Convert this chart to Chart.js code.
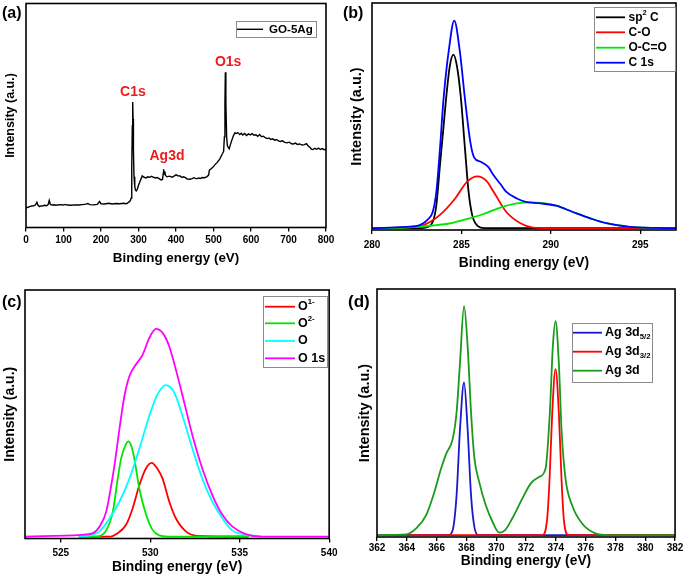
<!DOCTYPE html>
<html><head><meta charset="utf-8">
<script src="https://cdn.jsdelivr.net/npm/chart.js@4.4.1/dist/chart.umd.min.js"></script>
<style>
html,body{margin:0;padding:0;background:#fff;}
#wrap{position:relative;width:685px;height:578px;overflow:hidden;background:#fff;}
canvas{position:absolute;}
</style></head><body>
<div id="wrap">
<canvas id="ca" width="342" height="276" style="left:0px;top:0px;width:342px;height:276px"></canvas>
<canvas id="cb" width="343" height="276" style="left:342px;top:0px;width:343px;height:276px"></canvas>
<canvas id="cc" width="342" height="300" style="left:0px;top:278px;width:342px;height:300px"></canvas>
<canvas id="cd" width="343" height="300" style="left:342px;top:278px;width:343px;height:300px"></canvas>
</div>
<script>
// ---------- DATA ----------
// (a) survey spectrum GO-5Ag
const surveyEnergy = [0,5,10,15,20,25,29,32,36,40,45,50,55,59,62,65,70,75,80,90,100,105,110,120,130,140,150,160,165,170,180,190,196,200,210,220,230,240,250,260,268,274,278,280.5,282,283.5,284.5,285.5,286.5,288,290,292,294,297,300,305,310,315,320,325,330,335,340,345,350,355,360,364,366,367,368.5,370,372,376,382,390,400,405,411,416,420,425,430,437,443,448,455,460,465,470,476,482,487,489,492,496,500,504,510,517,521,524.5,527,529,530.5,531.6,533,535,537,540,542,545,548.5,553,557,561,565,570,574,578,583,588,593,598,603,608,613,618,623,628,633,638,643,648,653,658,663,668,673,678,684,690,696,702,708,713,718,724,730,736,742,748,752,757,761,765,770,775,780,785,790,795,800];
const surveyIntensity = [8.1,8.3,8.6,8.9,9.0,9.3,10.6,9.2,8.6,8.9,9.0,9.2,9.0,9.5,11.4,9.6,9.3,9.4,9.2,9.5,9.3,9.6,9.3,9.2,9.4,9.3,9.5,9.7,10.0,9.5,9.4,9.6,10.9,9.9,9.8,10.1,9.8,10.0,9.9,10.1,9.9,10.6,11.2,12.5,26,45,55.7,48,34,22,17.8,16.0,15.7,16.5,18.2,20.3,22.4,21.8,21.5,22.0,21.8,22.2,21.8,21.5,21.7,21.2,20.6,20.8,23.5,25.4,23.2,24.5,22.6,22.0,22.3,21.8,22.9,22.5,22.4,21.7,22.0,21.6,21.0,20.9,21.2,21.6,21.1,21.5,21.3,21.7,21.6,22.0,22.8,25.0,25.4,26.0,26.6,27.5,28.5,30.1,31.5,32.6,33.5,40,55,69.1,55,40,36.1,35.0,34.6,36.5,38.3,40.5,41.8,41.5,41.9,41.0,41.6,40.8,41.5,40.6,41.3,40.9,41.4,40.7,40.9,40.2,41.0,40.1,40.3,39.6,39.2,39.5,38.8,39.1,38.5,38.8,38.2,37.9,38.2,37.5,37.3,37.6,36.9,36.8,37.2,36.6,36.8,36.3,36.5,36.9,36.0,35.3,34.5,34.3,34.8,34.4,34.9,34.3,34.7,34.2,34.3];
const surveyPeakLabels = ['C1s','Ag3d','O1s'];
const surveyPeakEnergy = [285, 376, 539];
const surveyPeakLevel = [60, 31.5, 73.4];

// (b) C 1s
const sp2Energy = [280,282.5,283.0,283.4,283.6,283.8,284.0,284.14,284.35,284.55,284.75,284.96,285.2,285.4,285.6,285.9,286.3,297];
const sp2Int    = [0,0,0.3,2.9,10.3,27.9,45,57.3,72,77.1,72,58.7,35.2,16.2,5.9,1.0,0,0];
const coEnergy  = [280,281.6,282.9,283.8,284.65,285.3,285.9,286.4,286.8,287.5,288.3,289.0,290,297];
const coInt     = [0,0.3,1.5,5.9,13.2,20.5,23.0,21,16.2,7.3,2.2,0.3,0,0];
const occoEnergy= [280,281.9,283.4,284.4,285.3,286.2,287.3,288.1,288.9,289.5,290.3,291.2,292.2,293.1,294.4,295.9,297];
const occoInt   = [0,0.3,1.2,2.2,4.0,6.2,9.5,11.0,11.5,11.2,10.0,7.3,4.4,2.2,0.6,0.1,0];
const c1sEnergy = [280,281.9,282.7,283.1,283.4,283.6,283.8,284.0,284.3,284.6,284.9,285.2,285.5,285.7,286.1,286.5,286.8,287.2,287.5,288.1,288.6,289.3,290.3,291.2,292.2,293.1,294.4,295.9,297];
const c1sInt    = [0,0.6,1.5,3.7,7.3,16.2,35.2,57.3,79.3,92.2,79.3,57.3,38.2,31.6,29.4,27.2,23.5,19.4,16.2,13.2,11.7,11.1,10.0,7.3,4.4,2.2,0.6,0.1,0];

// (c) O 1s
const o1mEnergy = [526,527.8,528.1,528.65,529.02,529.39,529.75,530.08,530.4,530.69,531.06,531.43,531.99,532.6,535.5];
const o1mInt    = [0,0,1.0,4.8,11.5,20.8,27.5,29.9,27.5,23.5,14.2,7.4,2.1,0.3,0];
const o2mEnergy = [526,527.0,527.54,527.91,528.13,528.37,528.65,528.78,528.93,529.11,529.39,529.77,530.13,530.5,531,535.5];
const o2mInt    = [0,0,2.5,10.1,20.8,31.6,37.6,38.6,37.0,31.6,19.5,8.8,2.7,0.5,0,0];
const oEnergy   = [526,526.5,527.17,527.73,528.28,528.84,529.39,529.95,530.41,530.88,531.34,531.8,532.36,532.91,533.47,534.03,534.58,535.33,536.2];
const oInt      = [0,0.3,2.1,7.4,14.2,23.5,35.6,49.0,57.7,61.4,58.4,49.0,35.6,23.5,14.2,7.4,2.5,0.8,0];
const o1sEnergy = [523,526.15,526.8,527.17,527.54,527.82,528.0,528.28,528.56,528.84,529.2,529.58,529.95,530.32,530.69,531.06,531.43,531.9,532.36,532.91,533.47,534.03,534.58,535.33,536.2,540];
const o1sInt    = [0,0.7,1.4,4.1,10.1,20.8,28.9,43.7,57.1,65.1,69.8,73.8,80.6,84.2,82.6,77.2,67.8,54.4,41.0,27.6,16.8,8.8,4.1,1.0,0,0];

// (d) Ag 3d
const ag52Energy = [362,366.8,367.08,367.34,367.57,367.84,368.08,368.31,368.53,368.8,382];
const ag52Int    = [0,0,2.0,16.2,43.1,62.0,43.1,16.2,3.4,0,0];
const ag32Energy = [362,373.1,373.42,373.58,373.76,373.98,374.2,374.38,374.53,374.85,382];
const ag32Int    = [0,0,6.8,22.9,49.9,67.4,49.9,22.9,6.8,0,0];
const ag3dEnergy = [362,363.96,364.63,365.3,365.85,366.3,366.64,367.08,367.34,367.57,367.84,368.08,368.31,368.53,368.86,369.3,369.75,370.2,370.6,371.08,371.75,372.31,372.87,373.31,373.6,373.8,373.98,374.2,374.38,374.65,375.09,375.76,376.65,377.5,382];
const ag3dInt    = [0,0.3,2.7,8.1,17.5,27.0,33.0,39.1,49.9,70.1,93.0,76.8,49.9,31.6,21.5,12.1,5.4,1.0,2.0,6.8,14.8,20.9,23.6,27.0,49.9,76.8,86.9,70.1,43.1,22.9,12.1,4.7,0.7,0,0];

// ---------- HELPERS ----------
const FAM = '"Liberation Sans", Arial, sans-serif';
const pts = (xs, ys) => xs.map((x, i) => ({x: x, y: ys[i]}));

function drawRich(ctx, x, y, segs, size) {
  let cx = x;
  for (const s of segs) {
    const small = s.sup || s.sub;
    const fs = small ? size * 0.62 : size;
    ctx.font = 'bold ' + fs + 'px ' + FAM;
    const dy = s.sup ? -size * 0.36 : (s.sub ? size * 0.32 : 0);
    ctx.fillText(s.t, cx, y + dy);
    cx += ctx.measureText(s.t).width;
  }
}

function decoPlugin(cfg) {
  return {
    id: 'deco',
    afterDatasetsDraw(chart) {
      const ctx = chart.ctx, a = chart.chartArea;
      ctx.save();
      ctx.strokeStyle = '#000';
      ctx.lineWidth = 1.6;
      ctx.strokeRect(a.left, a.top, a.right - a.left, a.bottom - a.top);
      // peak annotations
      if (cfg.notes) {
        ctx.fillStyle = '#ee1c1c';
        ctx.font = 'bold 14px ' + FAM;
        ctx.textAlign = 'center';
        ctx.textBaseline = 'middle';
        cfg.notes.labels.forEach((t, i) => {
          ctx.fillText(t, chart.scales.x.getPixelForValue(cfg.notes.x[i]), chart.scales.y.getPixelForValue(cfg.notes.y[i]));
        });
      }
      // legend
      const L = cfg.legend;
      const ox = cfg.ox, oy = cfg.oy;
      ctx.fillStyle = '#fff';
      ctx.fillRect(L.box[0] - ox, L.box[1] - oy, L.box[2] - L.box[0], L.box[3] - L.box[1]);
      ctx.strokeStyle = '#8a8a8a';
      ctx.lineWidth = 1;
      ctx.strokeRect(L.box[0] - ox + 0.5, L.box[1] - oy + 0.5, L.box[2] - L.box[0], L.box[3] - L.box[1]);
      ctx.textAlign = 'left';
      ctx.textBaseline = 'middle';
      L.items.forEach((it, i) => {
        const y = L.rows[i] - oy;
        ctx.strokeStyle = it.color;
        ctx.lineWidth = L.lw;
        ctx.beginPath();
        ctx.moveTo(L.line[0] - ox, y);
        ctx.lineTo(L.line[1] - ox, y);
        ctx.stroke();
        ctx.fillStyle = '#000';
        drawRich(ctx, L.textX - ox, y, it.segs, L.size);
      });
      // panel label
      ctx.fillStyle = '#000';
      ctx.font = 'bold ' + cfg.panel.size + 'px ' + FAM;
      ctx.textAlign = 'left';
      ctx.textBaseline = 'alphabetic';
      ctx.fillText(cfg.panel.text, cfg.panel.x - ox, cfg.panel.y - oy);
      ctx.restore();
    }
  };
}

function makeChart(id, cfg) {
  const lineDs = cfg.datasets.map(d => ({
    data: pts(d.x, d.y), borderColor: d.color, borderWidth: d.lw || 1.8,
    pointRadius: 0, fill: false, tension: d.tension === undefined ? 0.4 : d.tension,
    cubicInterpolationMode: d.tension === 0 ? 'default' : 'monotone', order: d.order || 0
  }));
  return new Chart(document.getElementById(id), {
    type: 'line',
    data: {datasets: lineDs},
    options: {
      responsive: false, animation: false, devicePixelRatio: 1,
      layout: {padding: {left: 0, top: cfg.top, right: cfg.right, bottom: 0}},
      plugins: {legend: {display: false}, tooltip: {enabled: false}},
      scales: {
        x: {
          type: 'linear', min: cfg.xmin, max: cfg.xmax,
          ticks: {stepSize: cfg.step, includeBounds: false, maxRotation: 0, autoSkip: false,
                  color: '#000', padding: cfg.tickPad, font: {family: FAM, size: 10, weight: 'bold'}},
          grid: {display: true, drawOnChartArea: false, drawTicks: true, tickLength: 4, color: '#000', lineWidth: 1.3},
          border: {display: false},
          title: {display: true, text: 'Binding energy (eV)', color: '#000',
                  font: {family: FAM, size: cfg.xTitleSize, weight: 'bold'},
                  padding: {top: 0, bottom: cfg.xTitlePad}},
          afterFit: s => { s.height = cfg.xHeight; }
        },
        y: {
          min: -0.8, max: 100,
          ticks: {display: false}, grid: {display: false}, border: {display: false},
          title: {display: true, text: 'Intensity (a.u.)', color: '#000',
                  font: {family: FAM, size: cfg.yTitleSize, weight: 'bold'},
                  padding: {top: cfg.yTitlePad, bottom: 0}},
          afterFit: s => { s.width = cfg.yWidth; }
        }
      }
    },
    plugins: [decoPlugin(cfg)]
  });
}

// ---------- CHARTS ----------
makeChart('ca', {
  ox: 0, oy: 0, top: 3.5, right: 16, yWidth: 26, xHeight: 48.5,
  xmin: 0, xmax: 800, step: 100, tickPad: 3,
  xTitleSize: 13.4, xTitlePad: 10, yTitleSize: 12.5, yTitlePad: 3,
  datasets: [{x: surveyEnergy, y: surveyIntensity, color: '#000', lw: 1.4, tension: 0}],
  notes: {labels: surveyPeakLabels, x: surveyPeakEnergy, y: surveyPeakLevel},
  legend: {box: [236, 21, 316, 37], line: [237, 263], textX: 269, rows: [29.3], size: 11.6, lw: 1.4,
           items: [{color: '#000', segs: [{t: 'GO-5Ag'}]}]},
  panel: {text: '(a)', x: 2, y: 18, size: 16}
});

makeChart('cb', {
  ox: 342, oy: 0, top: 3, right: 9, yWidth: 30, xHeight: 46,
  xmin: 280, xmax: 297, step: 5, tickPad: 5,
  xTitleSize: 13.8, xTitlePad: 4.2, yTitleSize: 14.5, yTitlePad: 6.3,
  datasets: [
    {x: c1sEnergy, y: c1sInt, color: '#0000ff', order: 0},
    {x: occoEnergy, y: occoInt, color: '#00e600', order: 1},
    {x: coEnergy, y: coInt, color: '#ff0000', order: 2},
    {x: sp2Energy, y: sp2Int, color: '#000000', order: 3}
  ],
  legend: {box: [594, 7, 675, 71], line: [596, 625], textX: 628.5, rows: [17.3, 32.3, 47.7, 62.7], size: 12, lw: 1.8,
           items: [
             {color: '#000000', segs: [{t: 'sp'}, {t: '2', sup: true}, {t: ' C'}]},
             {color: '#ff0000', segs: [{t: 'C-O'}]},
             {color: '#00e600', segs: [{t: 'O-C=O'}]},
             {color: '#0000ff', segs: [{t: 'C 1s'}]}
           ]},
  panel: {text: '(b)', x: 343, y: 18, size: 16}
});

makeChart('cc', {
  ox: 0, oy: 278, top: 12, right: 10, yWidth: 25, xHeight: 39.5,
  xmin: 523, xmax: 540, step: 5, tickPad: 4.5,
  xTitleSize: 13.8, xTitlePad: 3, yTitleSize: 14, yTitlePad: 1.6,
  datasets: [
    {x: o1sEnergy, y: o1sInt, color: '#ff00ff', order: 0},
    {x: oEnergy, y: oInt, color: '#00ffff', order: 1},
    {x: o2mEnergy, y: o2mInt, color: '#00e600', order: 2},
    {x: o1mEnergy, y: o1mInt, color: '#ff0000', order: 3}
  ],
  legend: {box: [263, 296, 327, 367], line: [265, 295], textX: 298, rows: [306.7, 323.3, 341, 358.3], size: 12.5, lw: 1.8,
           items: [
             {color: '#ff0000', segs: [{t: 'O'}, {t: '1-', sup: true}]},
             {color: '#00e600', segs: [{t: 'O'}, {t: '2-', sup: true}]},
             {color: '#00ffff', segs: [{t: 'O'}]},
             {color: '#ff00ff', segs: [{t: 'O 1s'}]}
           ]},
  panel: {text: '(c)', x: 2, y: 307, size: 16}
});

makeChart('cd', {
  ox: 342, oy: 278, top: 11, right: 8, yWidth: 35, xHeight: 41,
  xmin: 362, xmax: 382, step: 2, tickPad: 1.6,
  xTitleSize: 13.8, xTitlePad: 8.5, yTitleSize: 14.5, yTitlePad: 14.3,
  datasets: [
    {x: ag3dEnergy, y: ag3dInt, color: '#1a9a1a', order: 0},
    {x: ag32Energy, y: ag32Int, color: '#ff0000', order: 1},
    {x: ag52Energy, y: ag52Int, color: '#1a1acc', order: 2}
  ],
  legend: {box: [572, 323, 652, 382], line: [573, 602], textX: 605, rows: [332.7, 351.7, 370.7], size: 12.5, lw: 1.8,
           items: [
             {color: '#1a1acc', segs: [{t: 'Ag 3d'}, {t: '5/2', sub: true}]},
             {color: '#ff0000', segs: [{t: 'Ag 3d'}, {t: '3/2', sub: true}]},
             {color: '#1a9a1a', segs: [{t: 'Ag 3d'}]}
           ]},
  panel: {text: '(d)', x: 348, y: 307, size: 17}
});
</script>
</body></html>
